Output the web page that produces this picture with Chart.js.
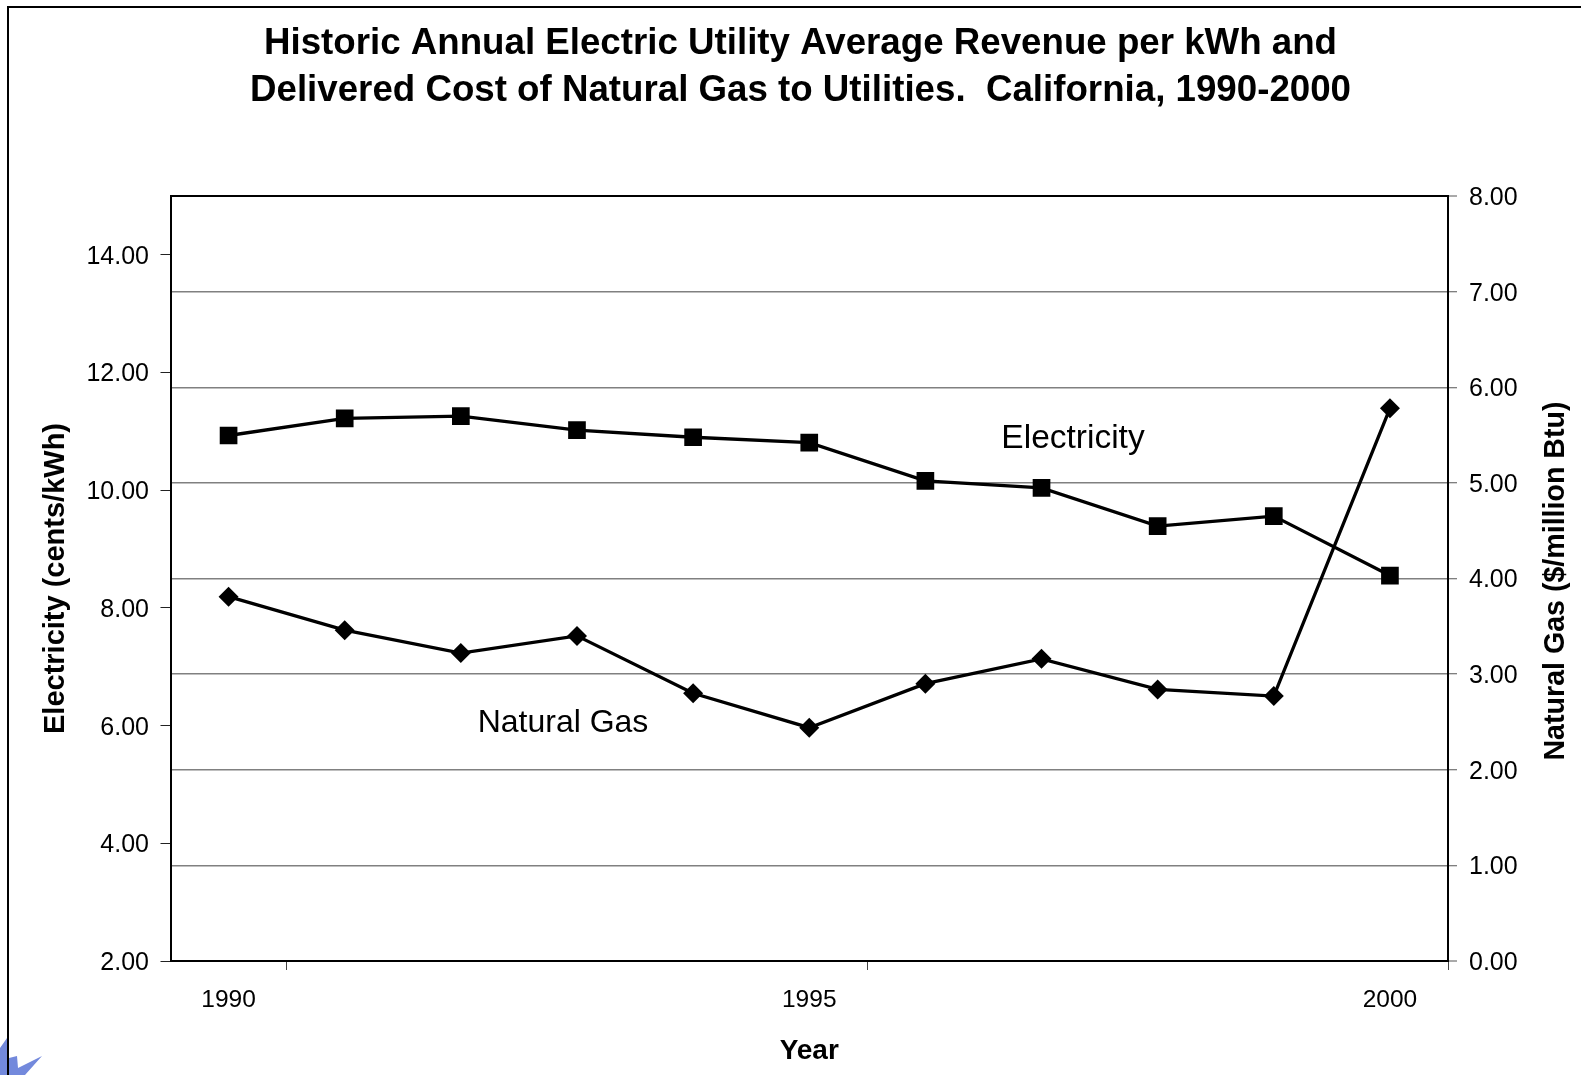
<!DOCTYPE html>
<html>
<head>
<meta charset="utf-8">
<title>California electricity and natural gas, 1990-2000</title>
<script src="https://cdn.jsdelivr.net/npm/chart.js@4"></script>
<style>
	html, body { margin: 0; padding: 0; background: #fff; }
	canvas { display: block; }
</style>
</head>
<body>
<canvas id="myChart" width="1581" height="1075"></canvas>
<script>
var years = ['1990', '1991', '1992', '1993', '1994', '1995', '1996', '1997', '1998', '1999', '2000'];
var electricity = [10.93, 11.22, 11.26, 11.02, 10.90, 10.81, 10.16, 10.04, 9.39, 9.56, 8.55];
var naturalGas = [3.81, 3.46, 3.22, 3.40, 2.80, 2.44, 2.90, 3.16, 2.84, 2.77, 5.78];

var titleLines = [
	'Historic Annual Electric Utility Average Revenue per kWh and',
	'Delivered Cost of Natural Gas to Utilities.  California, 1990-2000'
];

var FONT = '"Liberation Sans", Arial, sans-serif';

// page frame and the small blue corner mark
var pageFrame = {
	id: 'pageFrame',
	beforeDraw: function (chart) {
		var c = chart.ctx;
		c.save();
		c.fillStyle = '#7389dc';
		c.beginPath();
		c.moveTo(0, 1075);
		c.lineTo(0, 1048);
		c.lineTo(7, 1038);
		c.lineTo(9, 1058);
		c.lineTo(17, 1056);
		c.lineTo(18, 1068);
		c.lineTo(42, 1056);
		c.lineTo(25, 1075);
		c.closePath();
		c.fill();
		c.strokeStyle = '#000';
		c.lineWidth = 2;
		c.beginPath();
		c.moveTo(8, 1075);
		c.lineTo(8, 7);
		c.lineTo(1581, 7);
		c.stroke();
		c.restore();

		// value labels sit a little lower than the canvas middle baseline puts them
		['y', 'y1'].forEach(function (id) {
			chart.scales[id].getLabelItems().forEach(function (item) {
				item.options.translation[1] += 2;
			});
		});
	}
};

// series names inside the plot, plus the right axis title which reads bottom to top
var extraText = {
	id: 'extraText',
	afterDraw: function (chart) {
		var c = chart.ctx;
		c.save();
		c.fillStyle = '#000';
		c.textAlign = 'center';
		c.textBaseline = 'middle';
		c.font = '33.5px ' + FONT;
		c.fillText('Electricity', 1073, 439);
		c.font = '32px ' + FONT;
		c.fillText('Natural Gas', 563, 723);
		c.translate(1556, 581);
		c.rotate(-Math.PI / 2);
		c.font = 'bold 28.6px ' + FONT;
		c.fillText('Natural Gas ($/million Btu)', 0, 0);
		c.restore();
	}
};

new Chart(document.getElementById('myChart'), {
	type: 'line',
	data: {
		labels: years,
		datasets: [
			{
				label: 'Electricity',
				data: electricity,
				yAxisID: 'y',
				borderColor: '#000',
				backgroundColor: '#000',
				borderWidth: 3.3,
				tension: 0,
				pointStyle: 'rect',
				pointRadius: 12.5,
				pointBorderWidth: 0
			},
			{
				label: 'Natural Gas',
				data: naturalGas,
				yAxisID: 'y1',
				borderColor: '#000',
				backgroundColor: '#000',
				borderWidth: 3.3,
				tension: 0,
				pointStyle: 'rectRot',
				pointRadius: 10,
				pointBorderWidth: 0
			}
		]
	},
	options: {
		responsive: false,
		animation: false,
		layout: { padding: { left: 20 } },
		plugins: {
			legend: { display: false },
			tooltip: { enabled: false },
			title: {
				display: true,
				text: titleLines,
				color: '#000',
				font: { family: FONT, size: 36.7, weight: 'bold', lineHeight: 47 / 36.7 },
				padding: { top: 20.5, bottom: 81.5 }
			}
		},
		scales: {
			x: {
				offset: true,
				afterFit: function (scale) { scale.height = 114; },
				border: { color: '#000', width: 2 },
				grid: {
					offset: true,
					drawOnChartArea: false,
					tickLength: 9,
					tickWidth: 1,
					// a tick only every fifth category boundary
					tickColor: function (ctx) {
						if (ctx.type === 'scale') return '#444';
						return ctx.index % 5 === 1 ? '#444' : 'rgba(0,0,0,0)';
					}
				},
				ticks: {
					autoSkip: false,
					maxRotation: 0,
					padding: 16,
					color: '#000',
					font: { family: FONT, size: 24.5 },
					callback: function (value, index) {
						return index % 5 === 0 ? years[index] : '';
					}
				},
				title: {
					display: true,
					text: 'Year',
					color: '#000',
					font: { family: FONT, size: 28, weight: 'bold' },
					padding: { top: 0, bottom: 7 }
				}
			},
			y: {
				position: 'left',
				min: 2,
				max: 15,
				afterFit: function (scale) { scale.width = 150.5; },
				border: { color: '#000', width: 2 },
				grid: {
					drawOnChartArea: false,
					tickLength: 10,
					tickColor: '#222',
					tickWidth: 1
				},
				ticks: {
					stepSize: 2,
					includeBounds: false,
					padding: 11.5,
					color: '#000',
					font: { family: FONT, size: 25 },
					callback: function (value) { return value.toFixed(2); }
				},
				title: {
					display: true,
					text: 'Electricity (cents/kWh)',
					color: '#000',
					font: { family: FONT, size: 29, weight: 'bold' },
					padding: { top: 18.5, bottom: 0 }
				}
			},
			y1: {
				position: 'right',
				min: 0,
				max: 8,
				afterFit: function (scale) { scale.width = 133; },
				border: { color: '#000', width: 2 },
				grid: {
					color: function (ctx) {
						var v = ctx.tick.value;
						return v === 0 || v === 8 ? '#000' : '#808080';
					},
					lineWidth: function (ctx) {
						var v = ctx.tick.value;
						return v === 0 || v === 8 ? 2 : 1.5;
					},
					tickLength: 9,
					tickColor: '#555',
					tickWidth: 1
				},
				ticks: {
					stepSize: 1,
					padding: 12,
					color: '#000',
					font: { family: FONT, size: 25 },
					callback: function (value) { return value.toFixed(2); }
				}
			}
		}
	},
	plugins: [pageFrame, extraText]
});
</script>
</body>
</html>
